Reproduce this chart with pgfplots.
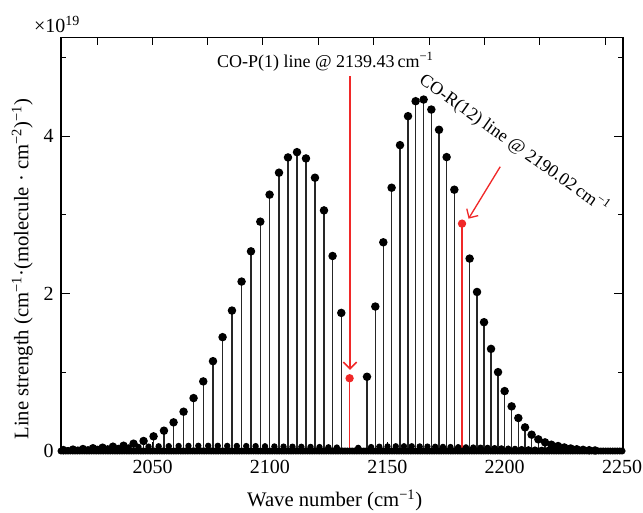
\documentclass[border=0pt]{standalone}
\usepackage{fontspec}
\setmainfont{Liberation Serif}
\usepackage{pgfplots}
\pgfplotsset{compat=1.18}
\usetikzlibrary{arrows.meta}
\definecolor{annred}{RGB}{240,40,40}
\begin{document}
\begin{tikzpicture}
\begin{axis}[name=ax, scale only axis, width=421.5pt, height=310pt,
 xmin=2011, xmax=2250.4, ymin=0, ymax=5.25, clip=false,
 xtick={2050,2100,2150,2200,2250}, xtick pos=bottom,
 ytick={0,2,4}, minor ytick={1,3,5},
 tick align=inside, major tick length=6.5pt, minor tick length=4pt,
 tick style={black, line width=0.8pt},
 axis line style={line width=0.9pt},
 ticklabel style={font=\fontsize{15}{17}\selectfont},
 /pgf/number format/assume math mode=true,
 /pgf/number format/1000 sep={},
 xticklabel style={yshift=-3pt},
 yticklabel style={xshift=-2pt},
 xlabel={Wave number (cm\textsuperscript{−1})},
 ylabel={Line strength (cm\textsuperscript{−1}·(molecule · cm\textsuperscript{−2})\textsuperscript{−1})},
 label style={font=\fontsize{15.5}{18}\selectfont},
 xlabel style={at={(axis description cs:0.487,-0.119)}, anchor=center},
 ylabel style={at={(axis description cs:-0.069,0.44)}, anchor=center},
]
% dense baseline of weak lines
\addplot[only marks, mark=*, mark size=2.4pt, black] coordinates {
(2011,0)(2012,0)(2013,0)(2014,0)(2015,0)(2016,0)(2017,0)(2018,0)(2019,0)(2020,0)
(2021,0)(2022,0)(2023,0)(2024,0)(2025,0)(2026,0)(2027,0)(2028,0)(2029,0)(2030,0)
(2031,0)(2032,0)(2033,0)(2034,0)(2035,0)(2036,0)(2037,0)(2038,0)(2039,0)(2040,0)
(2041,0)(2042,0)(2043,0)(2044,0)(2045,0)(2046,0)(2047,0)(2048,0)(2049,0)(2050,0)
(2051,0)(2052,0)(2053,0)(2054,0)(2055,0)(2056,0)(2057,0)(2058,0)(2059,0)(2060,0)
(2061,0)(2062,0)(2063,0)(2064,0)(2065,0)(2066,0)(2067,0)(2068,0)(2069,0)(2070,0)
(2071,0)(2072,0)(2073,0)(2074,0)(2075,0)(2076,0)(2077,0)(2078,0)(2079,0)(2080,0)
(2081,0)(2082,0)(2083,0)(2084,0)(2085,0)(2086,0)(2087,0)(2088,0)(2089,0)(2090,0)
(2091,0)(2092,0)(2093,0)(2094,0)(2095,0)(2096,0)(2097,0)(2098,0)(2099,0)(2100,0)
(2101,0)(2102,0)(2103,0)(2104,0)(2105,0)(2106,0)(2107,0)(2108,0)(2109,0)(2110,0)
(2111,0)(2112,0)(2113,0)(2114,0)(2115,0)(2116,0)(2117,0)(2118,0)(2119,0)(2120,0)
(2121,0)(2122,0)(2123,0)(2124,0)(2125,0)(2126,0)(2127,0)(2128,0)(2129,0)(2130,0)
(2131,0)(2132,0)(2133,0)(2134,0)(2135,0)(2136,0)(2137,0)(2138,0)(2139,0)(2140,0)
(2141,0)(2142,0)(2143,0)(2144,0)(2145,0)(2146,0)(2147,0)(2148,0)(2149,0)(2150,0)
(2151,0)(2152,0)(2153,0)(2154,0)(2155,0)(2156,0)(2157,0)(2158,0)(2159,0)(2160,0)
(2161,0)(2162,0)(2163,0)(2164,0)(2165,0)(2166,0)(2167,0)(2168,0)(2169,0)(2170,0)
(2171,0)(2172,0)(2173,0)(2174,0)(2175,0)(2176,0)(2177,0)(2178,0)(2179,0)(2180,0)
(2181,0)(2182,0)(2183,0)(2184,0)(2185,0)(2186,0)(2187,0)(2188,0)(2189,0)(2190,0)
(2191,0)(2192,0)(2193,0)(2194,0)(2195,0)(2196,0)(2197,0)(2198,0)(2199,0)(2200,0)
(2201,0)(2202,0)(2203,0)(2204,0)(2205,0)(2206,0)(2207,0)(2208,0)(2209,0)(2210,0)
(2211,0)(2212,0)(2213,0)(2214,0)(2215,0)(2216,0)(2217,0)(2218,0)(2219,0)(2220,0)
(2221,0)(2222,0)(2223,0)(2224,0)(2225,0)(2226,0)(2227,0)(2228,0)(2229,0)(2230,0)
(2231,0)(2232,0)(2233,0)(2234,0)(2235,0)(2236,0)(2237,0)(2238,0)(2239,0)(2240,0)
(2241,0)(2242,0)(2243,0)(2244,0)(2245,0)(2246,0)(2247,0)(2248,0)(2249,0)(2250,0)
};
% secondary weak lines
\addplot[ycomb, black!85, line width=0.7pt, mark=*, mark size=2pt, mark options={black}] coordinates {
(2014.0,0.012)(2018.2,0.018)(2022.5,0.022)(2026.6,0.028)(2030.9,0.034)(2035.4,0.040)
(2039.8,0.046)(2044.0,0.052)(2048.3,0.056)(2052.6,0.060)(2056.9,0.062)(2061.1,0.064)
(2065.3,0.065)(2069.5,0.066)(2073.7,0.066)(2077.8,0.066)(2081.8,0.065)(2085.9,0.064)
(2089.9,0.063)(2093.9,0.062)(2097.9,0.060)(2101.9,0.058)(2105.8,0.056)(2109.6,0.055)
(2113.4,0.054)(2117.3,0.052)(2121.1,0.050)(2124.9,0.047)(2128.5,0.044)(2137.6,0.040)
(2143.1,0.050)(2146.6,0.055)(2150.1,0.058)(2153.6,0.060)(2157.1,0.060)(2160.4,0.060)
(2163.8,0.058)(2167.1,0.056)(2170.4,0.054)(2173.7,0.052)(2176.9,0.050)(2180.2,0.048)
(2183.5,0.046)(2186.6,0.044)(2189.7,0.042)(2192.7,0.040)(2195.7,0.036)(2198.6,0.033)
(2201.5,0.030)(2204.4,0.027)(2207.2,0.024)(2210.1,0.021)(2212.9,0.018)(2215.8,0.015)
(2218.5,0.012)(2221.3,0.010)(2224.0,0.008)
};
% main CO lines, P branch
\addplot[ycomb, black!85, line width=1.1pt, mark=*, mark size=2.6pt, mark options={black}] coordinates {
(2130.40,1.754)(2126.69,2.477)(2123.03,3.056)(2119.19,3.471)(2115.36,3.716)
(2111.53,3.796)(2107.69,3.729)(2103.86,3.535)(2099.85,3.256)(2095.89,2.913)
(2091.93,2.536)(2087.92,2.152)(2083.83,1.784)(2079.83,1.446)(2075.74,1.141)
(2071.60,0.884)(2067.47,0.672)(2063.21,0.499)(2058.95,0.364)(2054.86,0.258)
(2050.43,0.186)(2046.17,0.127)(2041.90,0.093)(2037.64,0.067)(2033.13,0.055)
(2028.70,0.042)(2024.61,0.035)(2020.35,0.025)(2016.10,0.018)(2012.00,0.012)
};
% main CO lines, R branch
\addplot[ycomb, black!85, line width=1.1pt, mark=*, mark size=2.6pt, mark options={black}] coordinates {
(2141.35,0.943)(2144.89,1.835)(2148.30,2.651)(2151.83,3.344)(2155.41,3.885)
(2158.82,4.253)(2162.06,4.443)(2165.47,4.464)(2168.75,4.337)(2172.03,4.080)
(2175.27,3.733)(2178.55,3.319)(2185.07,2.444)(2188.22,2.020)(2191.20,1.636)
(2194.18,1.297)(2197.17,1.002)(2199.98,0.761)(2202.96,0.567)(2205.82,0.419)
(2208.67,0.300)(2211.48,0.207)(2214.34,0.148)(2217.19,0.110)(2219.88,0.080)
(2222.73,0.063)(2225.40,0.045)(2228.10,0.032)(2230.70,0.022)(2233.40,0.015)
(2236.00,0.010)(2238.50,0.007)
};
% highlighted lines
\addplot[ycomb, annred, line width=1pt, mark=*, mark size=2.6pt, mark options={annred}] coordinates {
(2133.94,0.924)(2181.83,2.888)
};
\node[font=\fontsize{13.5}{16}\selectfont] at (axis cs:2123.6,4.95) {CO-P(1) line @ 2139.43\,cm\textsuperscript{−1}};
\draw[color=annred, line width=1.2pt, -{Straight Barb[length=5pt,width=10pt]}] (axis cs:2134.1,4.76) -- (axis cs:2134.1,1.03);
\node[rotate=-35.5, font=\fontsize{13.5}{16}\selectfont] at (axis cs:2204.1,3.90) {CO-R(12) line @ 2190.02\,cm\textsuperscript{−1}};
\draw[color=annred, line width=1pt, -{Straight Barb[length=5pt,width=10pt]}] (axis cs:2198.1,3.611) -- (axis cs:2184.6,2.951);
\node[font=\fontsize{15}{17}\selectfont, anchor=south] at (axis description cs:-0.007,1) {×10\textsuperscript{19}};
\end{axis}
\begin{axis}[at={(ax.south west)}, anchor=south west, scale only axis, width=421.5pt, height=310pt,
 xmin=2011, xmax=2250.4, ymin=0, ymax=5.25,
 axis x line*=top, hide y axis,
 xtick={2026.6,2049.9,2073.4,2096.9,2120.5,2144.2,2167.8,2191.3,2214.9,2242.8},
 xticklabels={}, tick align=inside, major tick length=5.5pt,
 tick style={black, line width=0.8pt}, axis line style={line width=0.9pt, -}]
\end{axis}
\pgfresetboundingbox
\path[use as bounding box] ([shift={(-45.75pt,-45.75pt)}]ax.south west) rectangle ([shift={(436.5pt,338.25pt)}]ax.south west);
\end{tikzpicture}
\end{document}
